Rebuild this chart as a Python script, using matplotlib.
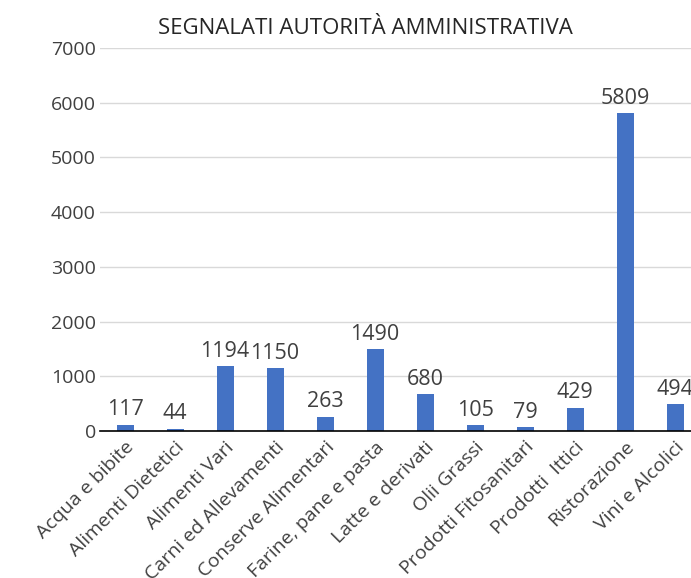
import matplotlib
matplotlib.use("Agg")
import matplotlib.pyplot as plt
from matplotlib import font_manager

categories = [
    "Acqua e bibite", "Alimenti Dietetici", "Alimenti Vari", "Carni ed Allevamenti",
    "Conserve Alimentari", "Farine, pane e pasta", "Latte e derivati", "Olii Grassi",
    "Prodotti Fitosanitari", "Prodotti  Ittici", "Ristorazione", "Vini e Alcolici",
]
values = [117, 44, 1194, 1150, 263, 1490, 680, 105, 79, 429, 5809, 494]
yticks = [0, 1000, 2000, 3000, 4000, 5000, 6000, 7000]
title = "SEGNALATI AUTORITÀ AMMINISTRATIVA"

names = {f.name for f in font_manager.fontManager.ttflist}
body_font = "Open Sans" if "Open Sans" in names else "DejaVu Sans"
title_font = "Liberation Sans Narrow" if "Liberation Sans Narrow" in names else body_font

fig = plt.figure(figsize=(6.91, 5.78), dpi=100)
ax = fig.add_axes([100 / 691, (578 - 431) / 578, 600 / 691, (431 - 48) / 578])

x = list(range(len(categories)))
bars = ax.bar(x, values, width=0.34, color="#4472C4", zorder=3)

ax.set_xlim(-0.5, len(categories) - 0.5)
ax.set_ylim(0, 7000)
ax.set_yticks(yticks)
ax.set_yticklabels([str(t) for t in yticks], fontsize=14, color="#404040", family=body_font)
ax.yaxis.grid(True, color="#D9D9D9", linewidth=1, zorder=0)
ax.tick_params(axis="y", length=0, pad=3)
ax.tick_params(axis="x", length=0, pad=5)

for s in ("top", "right", "left"):
    ax.spines[s].set_visible(False)
ax.spines["bottom"].set_color("#000000")
ax.spines["bottom"].set_linewidth(1.2)
ax.spines["bottom"].set_zorder(4)

ax.set_xticks(x)
ax.set_xticklabels(categories, rotation=45, ha="right", rotation_mode="anchor",
                   fontsize=14, color="#404040", family=body_font)

for b, v in zip(bars, values):
    ax.annotate(str(v), (b.get_x() + b.get_width() / 2, v), xytext=(0, 3),
                textcoords="offset points", ha="center", va="bottom",
                fontsize=15.5, color="#404040", family=body_font)

fig.text(365 / 691, 1 - 28 / 578, title, ha="center", va="center",
         fontsize=16, color="#262626", family=title_font)

fig.savefig("out.png", dpi=100)
